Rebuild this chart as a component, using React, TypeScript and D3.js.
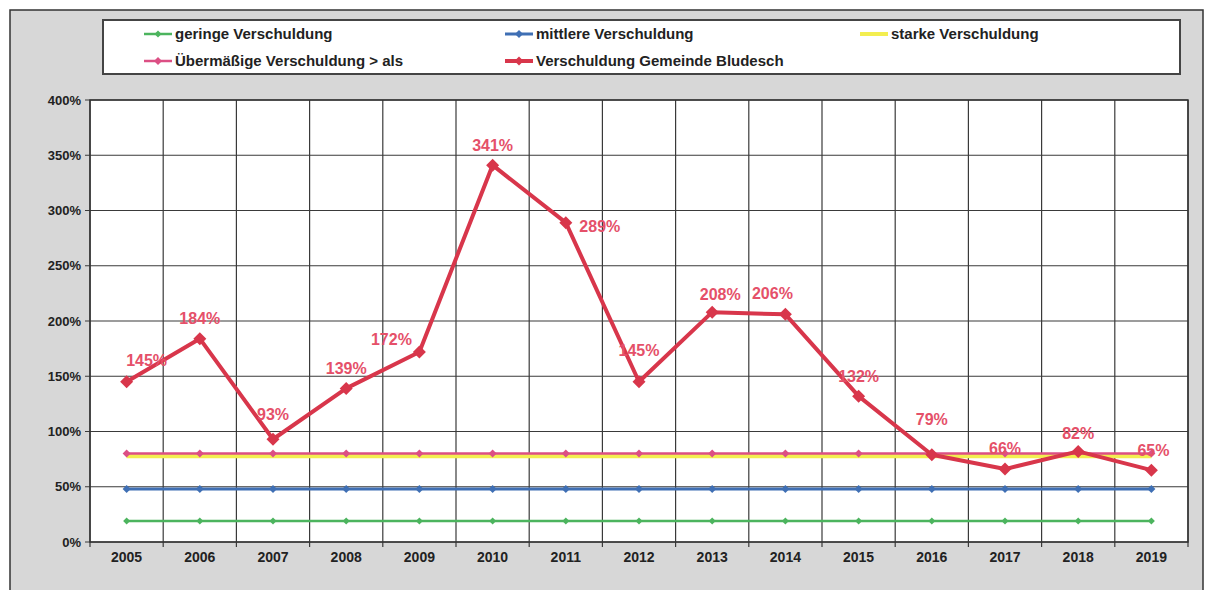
import React from "react";
import * as d3 from "d3";

const years = ["2005","2006","2007","2008","2009","2010","2011","2012","2013","2014","2015","2016","2017","2018","2019"];
const bludesch = [1.45,1.84,0.93,1.39,1.72,3.41,2.89,1.45,2.08,2.06,1.32,0.79,0.66,0.82,0.65];
const gering = years.map(() => 0.19);
const mittel = years.map(() => 0.48);
const stark = years.map(() => 0.78);
const uebermaessig = years.map(() => 0.80);
const yTicks = [0,0.5,1,1.5,2,2.5,3,3.5,4];
const seriesNames = ["geringe Verschuldung","mittlere Verschuldung","starke Verschuldung","Übermäßige Verschuldung > als","Verschuldung Gemeinde Bludesch"];

// label placement (layout only)
const labelDx = [20,0,0,0,-28,0,34,0,8,-13,0,0,0,0,2];
const labelDy = [-21,-20,-25,-20,-13,-20,4,-31,-18,-21,-20,-35,-21,-18,-20];

const W = 1206, H = 590;
const plot = { left: 90, right: 1188, top: 100, bottom: 542 };

export default function App() {
  const x = d3.scaleBand<string>().domain(years).range([plot.left, plot.right]);
  const y = d3.scaleLinear().domain([0, 4]).range([plot.bottom, plot.top]);
  const cx = (d: string) => (x(d) as number) + x.bandwidth() / 2;
  const line = d3.line<number>().x((_, i) => cx(years[i])).y((v) => y(v));
  const fmt = d3.format(".0%");
  const font = "'Liberation Sans', Arial, sans-serif";

  const series = [
    { name: seriesNames[0], data: gering, color: "#4cb45e", width: 2.5, marker: 3.5 },
    { name: seriesNames[1], data: mittel, color: "#3f6fb4", width: 3, marker: 4 },
    { name: seriesNames[2], data: stark, color: "#f3ee50", width: 5, marker: 0 },
    { name: seriesNames[3], data: uebermaessig, color: "#dc4f84", width: 2.5, marker: 4 },
    { name: seriesNames[4], data: bludesch, color: "#d8364b", width: 4, marker: 6.5 },
  ];

  const diamond = (px: number, py: number, r: number) =>
    `M${px},${py - r}L${px + r},${py}L${px},${py + r}L${px - r},${py}Z`;

  const legendPos = [
    { x: 144, y: 34 }, { x: 505, y: 34 }, { x: 860, y: 34 },
    { x: 144, y: 61 }, { x: 505, y: 61 },
  ];

  const boundaries = d3.range(years.length + 1).map((i) => plot.left + i * x.step());

  return (
    <svg width={W} height={H} style={{ position: "absolute", left: 0, top: 0, background: "#fff" }} fontFamily={font}>
      <rect x={10} y={10} width={1193} height={600} fill="#d7d7d7" stroke="#333" strokeWidth={1.5} />
      {/* legend */}
      <rect x={103} y={20} width={1077} height={54} fill="#fff" stroke="#444" strokeWidth={2} />
      {series.map((s, i) => {
        const p = legendPos[i];
        return (
          <g key={s.name}>
            <line x1={p.x} x2={p.x + 28} y1={p.y} y2={p.y} stroke={s.color} strokeWidth={s.name === seriesNames[2] ? 4 : Math.max(2.5, s.width)} />
            {s.marker > 0 && <path d={diamond(p.x + 14, p.y, Math.min(s.marker, 4.5))} fill={s.color} />}
            <text x={p.x + 31} y={p.y} dy="0.35em" fontSize={15} fontWeight="bold" fill="#222">{s.name}</text>
          </g>
        );
      })}
      {/* plot area */}
      <rect x={plot.left} y={plot.top} width={plot.right - plot.left} height={plot.bottom - plot.top} fill="#fff" />
      {yTicks.map((t) => (
        <g key={t}>
          <line x1={plot.left - 5} x2={plot.right} y1={y(t)} y2={y(t)} stroke="#3a3a3a" strokeWidth={1.2} />
          <text x={81} y={y(t)} dy="0.35em" textAnchor="end" fontSize={13} fontWeight="bold" fill="#222">{fmt(t)}</text>
        </g>
      ))}
      {boundaries.map((bx, i) => (
        <line key={i} x1={bx} x2={bx} y1={plot.top} y2={plot.bottom + 5} stroke="#3a3a3a" strokeWidth={1.2} />
      ))}
      <rect x={plot.left} y={plot.top} width={plot.right - plot.left} height={plot.bottom - plot.top} fill="none" stroke="#333" strokeWidth={1.5} />
      {years.map((yr) => (
        <text key={yr} x={cx(yr)} y={557} dy="0.35em" textAnchor="middle" fontSize={14} fontWeight="bold" fill="#222">{yr}</text>
      ))}
      {/* series */}
      {series.map((s) => (
        <g key={s.name}>
          <path d={line(s.data) || ""} fill="none" stroke={s.color} strokeWidth={s.width} strokeLinejoin="round" />
          {s.marker > 0 && s.data.map((v, i) => (
            <path key={i} d={diamond(cx(years[i]), y(v), s.marker)} fill={s.color} />
          ))}
        </g>
      ))}
      {bludesch.map((v, i) => (
        <text key={i} x={cx(years[i]) + labelDx[i]} y={y(v) + labelDy[i]} dy="0.35em" textAnchor="middle" fontSize={16} fontWeight="bold" fill="#e55069">{fmt(v)}</text>
      ))}
    </svg>
  );
}
